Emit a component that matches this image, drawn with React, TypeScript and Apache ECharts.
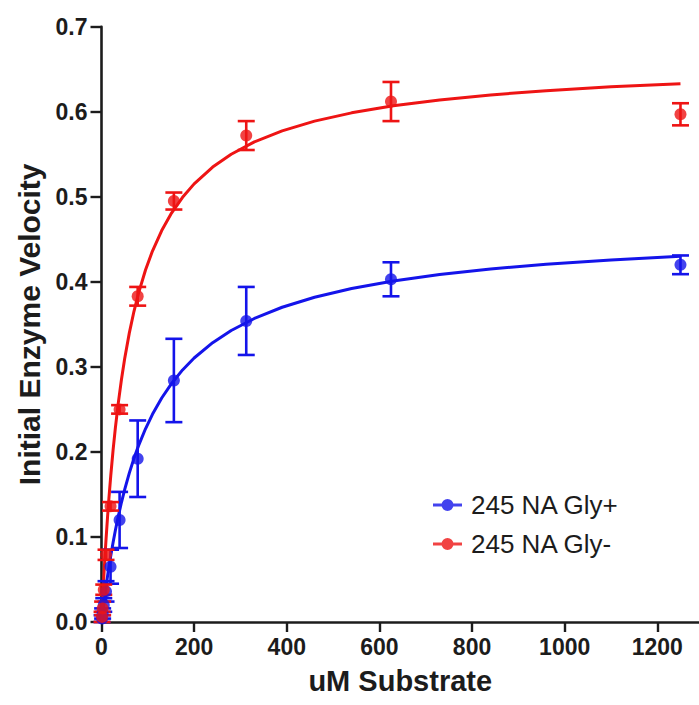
import React, { useEffect, useRef } from "react";
import * as echarts from "echarts";

// Substrate concentrations (uM), two-fold dilution series
const substrate = [1250, 625, 312.5, 156.25, 78.13, 39.06, 19.53, 9.77, 4.88, 2.44, 1.22];

// Mean initial velocities and their error-bar half widths
const glyPlusMean = [0.42, 0.403, 0.354, 0.284, 0.192, 0.12, 0.065, 0.036, 0.02, 0.01, 0.004];
const glyPlusErr = [0.011, 0.02, 0.04, 0.049, 0.045, 0.033, 0.02, 0.012, 0.008, 0.006, 0.004];
const glyMinusMean = [0.597, 0.612, 0.572, 0.495, 0.383, 0.25, 0.136, 0.079, 0.038, 0.016, 0.006];
const glyMinusErr = [0.013, 0.023, 0.017, 0.01, 0.011, 0.005, 0.005, 0.006, 0.006, 0.008, 0.006];

// Fitted saturation curves, sampled densely along the substrate axis
const fitX = [
  0, 1, 2, 4, 6, 8, 10, 13, 16, 20, 25, 30, 36, 43, 50, 60, 70, 80, 95, 110, 130, 150, 175, 200,
  240, 280, 330, 390, 460, 540, 630, 730, 840, 960, 1100, 1250,
];
const fitGlyPlus = [
  0, 0.0046, 0.0092, 0.018, 0.0265, 0.0347, 0.0426, 0.0539, 0.0646, 0.078, 0.0936, 0.1079,
  0.1237, 0.1405, 0.1557, 0.1751, 0.1922, 0.2074, 0.2272, 0.2442, 0.2634, 0.2795, 0.2964,
  0.3104, 0.3285, 0.3428, 0.3569, 0.3701, 0.3818, 0.3921, 0.401, 0.4086, 0.4151, 0.4206,
  0.4257, 0.43,
];
const fitGlyMinus = [
  0, 0.0114, 0.0225, 0.0435, 0.0631, 0.0816, 0.0989, 0.1231, 0.1453, 0.1721, 0.202, 0.2285,
  0.2565, 0.2849, 0.3095, 0.3397, 0.3651, 0.3867, 0.4139, 0.4362, 0.4603, 0.4798, 0.4994,
  0.5152, 0.535, 0.55, 0.5645, 0.5775, 0.589, 0.5987, 0.607, 0.6139, 0.6198, 0.6248, 0.6293,
  0.633,
];

const xTicks = [0, 200, 400, 600, 800, 1000, 1200];

const BLUE = "#1414ea";
const RED = "#ee1414";
const INK = "#1c1c1c";
const FONT = "'Liberation Sans', Arial, Helvetica, sans-serif";

const legendIcon =
  "path://M0,4.5 L29,4.5 L29,7.5 L0,7.5 Z M8.5,6 A6,6 0 1,1 20.5,6 A6,6 0 1,1 8.5,6 Z";

function errorBarSeries(name: string, mean: number[], err: number[], color: string) {
  return {
    type: "custom",
    name,
    data: substrate.map((s, i) => [s, mean[i], err[i]]),
    encode: { x: 0, y: 1 },
    renderItem: (_params: any, api: any) => {
      const x = api.value(0);
      const y = api.value(1);
      const e = api.value(2);
      const top = api.coord([x, y + e]);
      const bot = api.coord([x, y - e]);
      const hw = 8.5;
      const style = { stroke: color, lineWidth: 2.6 };
      return {
        type: "group",
        children: [
          { type: "line", shape: { x1: top[0], y1: top[1], x2: bot[0], y2: bot[1] }, style },
          { type: "line", shape: { x1: top[0] - hw, y1: top[1], x2: top[0] + hw, y2: top[1] }, style },
          { type: "line", shape: { x1: bot[0] - hw, y1: bot[1], x2: bot[0] + hw, y2: bot[1] }, style },
        ],
      };
    },
    z: 3,
  };
}

function fitSeries(name: string, ys: number[], color: string) {
  return {
    type: "line",
    name,
    data: fitX.map((x, i) => [x, ys[i]]),
    showSymbol: false,
    smooth: false,
    lineStyle: { color, width: 3, join: "round" },
    z: 2,
  };
}

function pointSeries(name: string, mean: number[], color: string) {
  return {
    type: "scatter",
    name,
    data: substrate.map((s, i) => [s, mean[i]]),
    symbol: "circle",
    symbolSize: 12,
    itemStyle: { color },
    clip: false,
    z: 4,
  };
}

export default function App() {
  const ref = useRef<HTMLDivElement>(null);

  useEffect(() => {
    if (!ref.current) return;
    const chart = echarts.init(ref.current, null, { renderer: "svg" });
    chart.setOption({
      animation: false,
      backgroundColor: "#ffffff",
      grid: { left: 101.5, right: 0, top: 26.7, bottom: 83 },
      legend: {
        orient: "vertical",
        left: 428,
        top: 487,
        itemWidth: 29,
        itemHeight: 12,
        itemGap: 13,
        data: [
          { name: "245 NA Gly+", icon: legendIcon, itemStyle: { color: BLUE } },
          { name: "245 NA Gly-", icon: legendIcon, itemStyle: { color: RED } },
        ],
        textStyle: {
          fontFamily: FONT,
          fontSize: 26,
          lineHeight: 26,
          color: INK,
          padding: [0, 0, 0, 4],
        },
        selectedMode: false,
      },
      xAxis: {
        type: "value",
        min: 0,
        max: 1290,
        interval: 200,
        name: "uM Substrate",
        nameLocation: "middle",
        nameGap: 44,
        nameTextStyle: { fontFamily: FONT, fontSize: 29, fontWeight: "bold", color: INK },
        axisLine: { lineStyle: { color: INK, width: 2.6 } },
        axisTick: {
          show: true,
          length: 10,
          customValues: xTicks,
          lineStyle: { color: INK, width: 2.4 },
        },
        axisLabel: {
          customValues: xTicks,
          margin: 13,
          fontFamily: FONT,
          fontSize: 23,
          fontWeight: "bold",
          color: INK,
          formatter: (v: number) => String(v),
        },
        splitLine: { show: false },
      },
      yAxis: {
        type: "value",
        min: 0,
        max: 0.7,
        interval: 0.1,
        name: "Initial Enzyme Velocity",
        nameLocation: "middle",
        nameGap: 56,
        nameTextStyle: { fontFamily: FONT, fontSize: 30, fontWeight: "bold", color: INK },
        axisLine: { show: true, lineStyle: { color: INK, width: 2.6 } },
        axisTick: { show: true, length: 11, lineStyle: { color: INK, width: 2.4 } },
        axisLabel: {
          margin: 14,
          fontFamily: FONT,
          fontSize: 23,
          fontWeight: "bold",
          color: INK,
          formatter: (v: number) => v.toFixed(1),
        },
        splitLine: { show: false },
      },
      series: [
        fitSeries("Gly+ fit", fitGlyPlus, BLUE),
        errorBarSeries("Gly+ error", glyPlusMean, glyPlusErr, BLUE),
        pointSeries("245 NA Gly+", glyPlusMean, BLUE),
        fitSeries("Gly- fit", fitGlyMinus, RED),
        errorBarSeries("Gly- error", glyMinusMean, glyMinusErr, RED),
        pointSeries("245 NA Gly-", glyMinusMean, RED),
      ],
    });
    return () => chart.dispose();
  }, []);

  return (
    <div
      ref={ref}
      style={{ position: "fixed", left: 0, top: 0, width: 699, height: 705, background: "#fff" }}
    />
  );
}
